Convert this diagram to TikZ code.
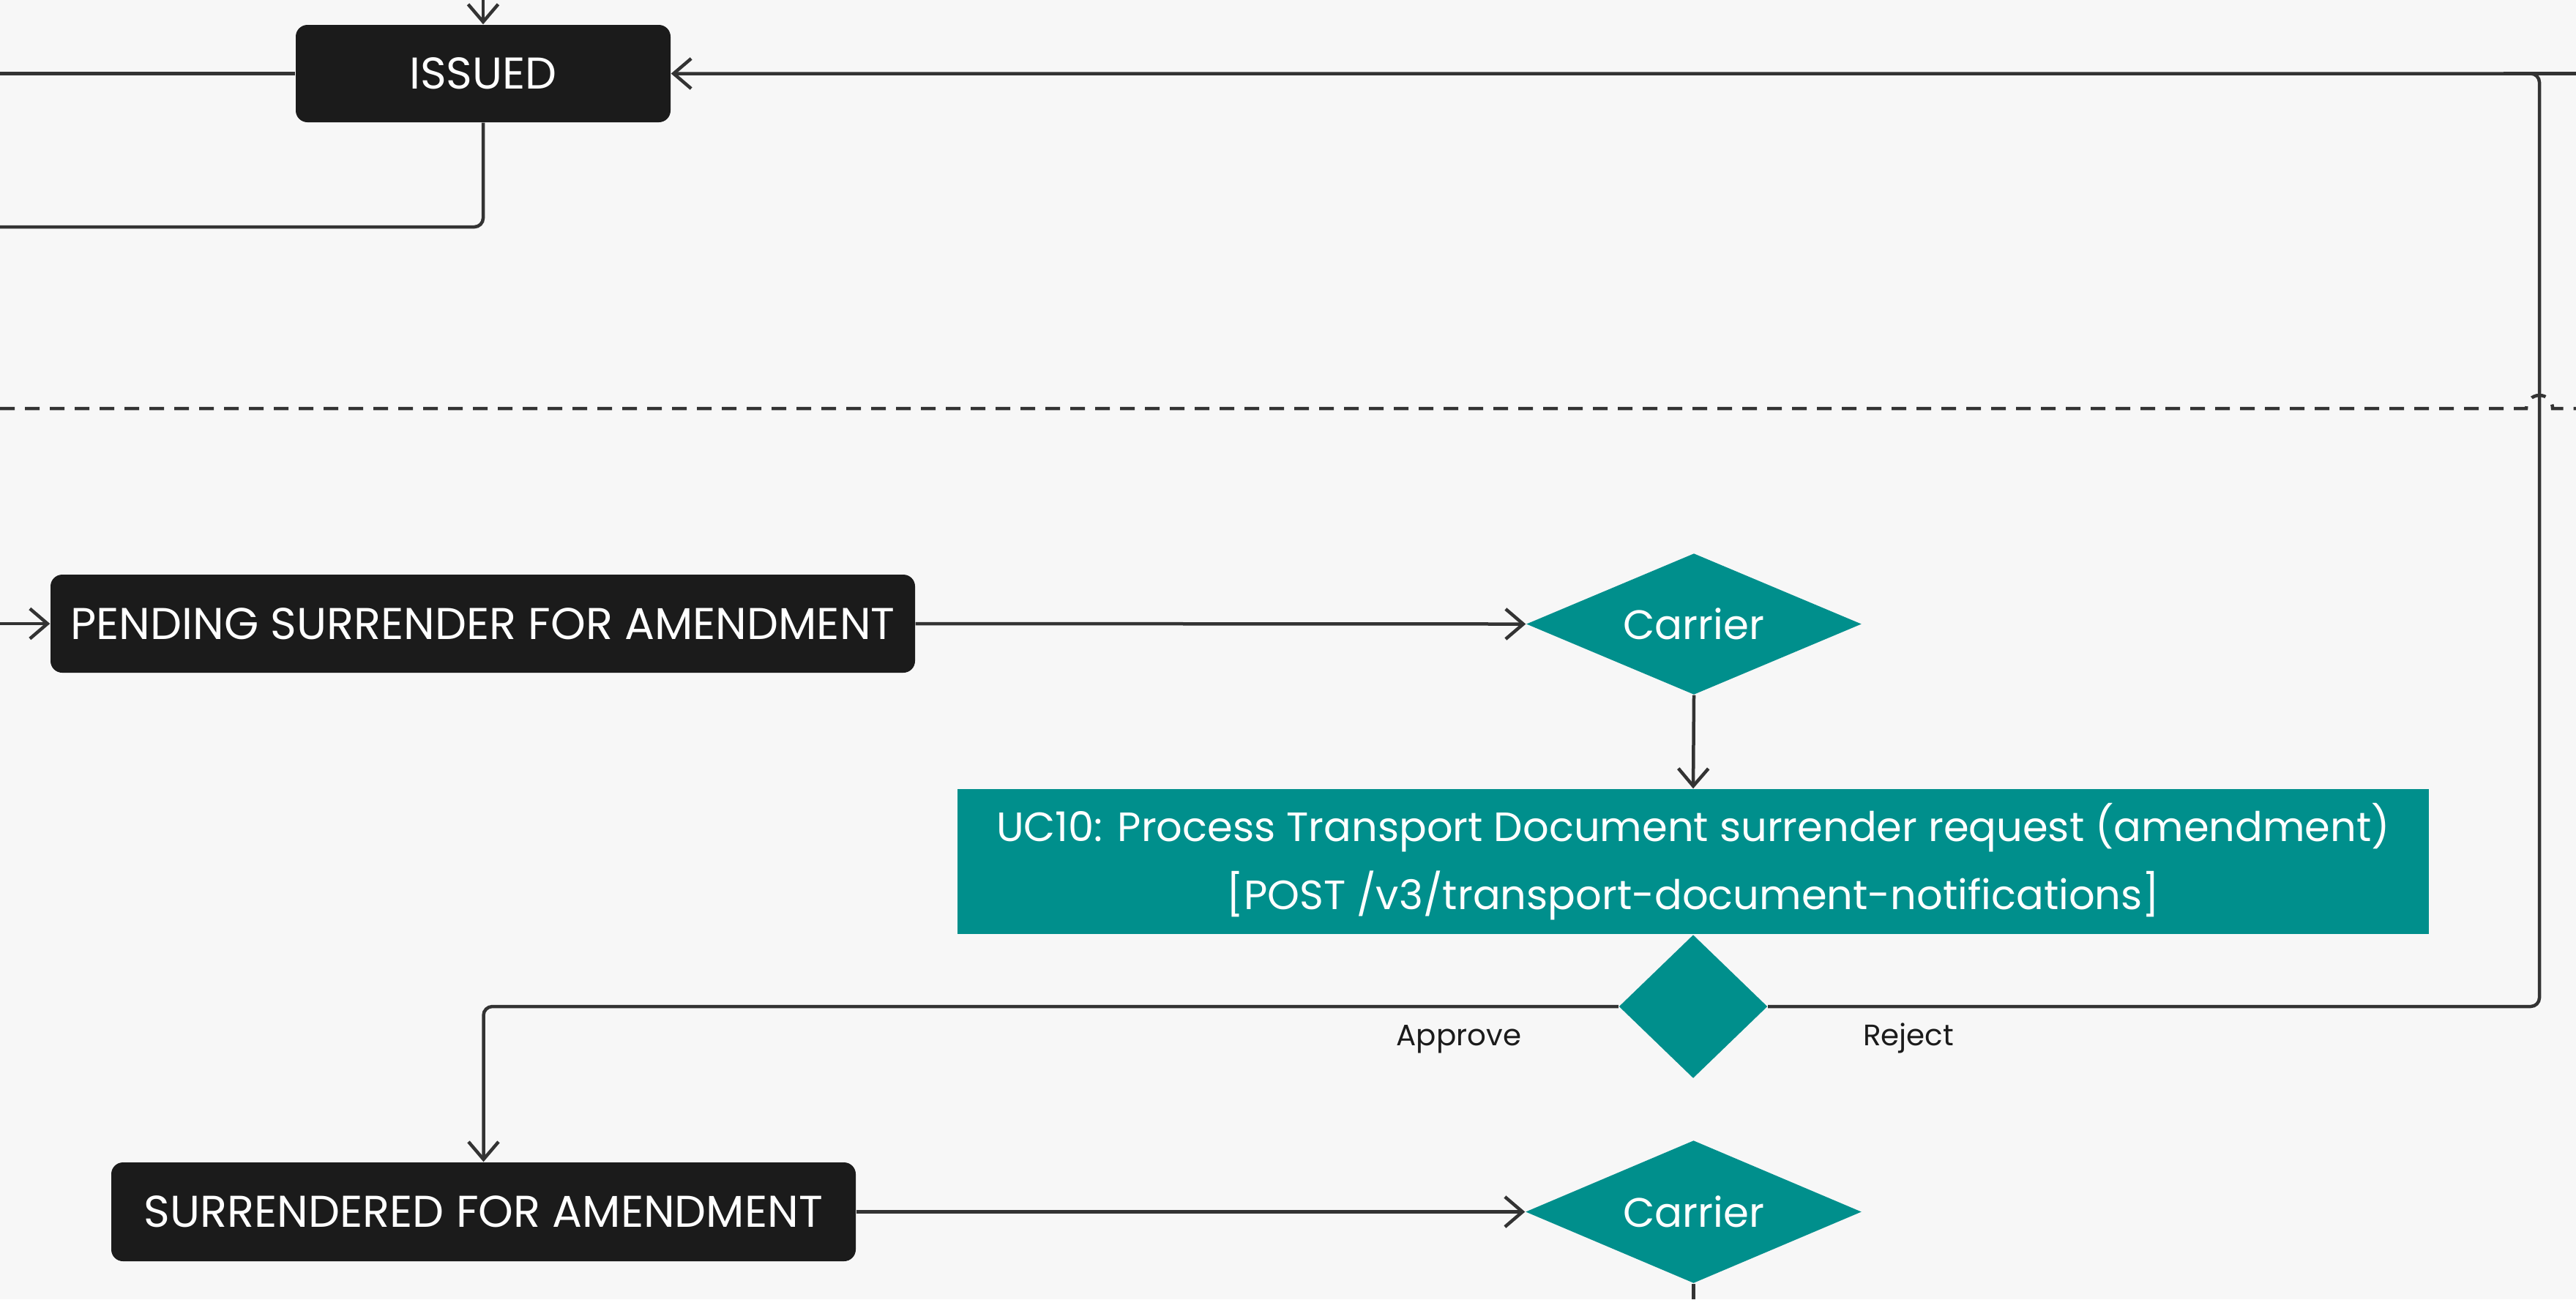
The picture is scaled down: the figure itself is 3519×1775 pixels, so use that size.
\documentclass[tikz,border=0pt]{standalone}
\usepackage{fontspec}
\setmainfont{Poppins}
\usetikzlibrary{arrows.meta,shapes.geometric}
\definecolor{bg}{HTML}{F7F7F7}
\definecolor{ink}{HTML}{1B1B1B}
\definecolor{tealx}{HTML}{008F8C}
\definecolor{wire}{HTML}{333333}
\begin{document}
\begin{tikzpicture}[x=0.1mm,y=-0.1mm,
 state/.style={fill=ink, rounded corners=1.6mm, text=white, font=\fontsize{17.3}{20}\selectfont, inner sep=0pt},
 proc/.style={fill=tealx, text=white, font=\fontsize{15.9}{26.5}\selectfont, align=center, inner sep=0pt, minimum width=201mm, minimum height=19.8mm},
 decision/.style={diamond, fill=tealx, text=white, font=\fontsize{16}{19}\selectfont, inner sep=0pt},
 flow/.style={draw=wire, line width=0.45mm, rounded corners=1.2mm},
 arr/.style={-{Straight Barb[length=2.4mm,width=4.1mm]}},
 lbl/.style={text=ink, font=\fontsize{11.5}{13}\selectfont, anchor=base}]
\useasboundingbox (0,0) rectangle (3519,1775);
\fill[bg] (0,0) rectangle (3519,1775);

% nodes
\node[state, minimum width=51.2mm, minimum height=13.3mm] (issued) at (660,100.5) {ISSUED};
\node[state, minimum width=118.1mm, minimum height=13.4mm] (pending) at (659.5,852) {PENDING SURRENDER FOR AMENDMENT};
\node[state, minimum width=101.7mm, minimum height=13.5mm] (surr) at (660.5,1655.5) {SURRENDERED FOR AMENDMENT};
\node[proc] (uc) at (2313,1177) {UC10: Process Transport Document surrender request (amendment)\\\relax[POST /v3/transport-document-notifications]};
\node[decision, aspect=2.37, minimum width=45.8mm, minimum height=19.3mm] (c1) at (2314,852.5) {Carrier};
\node[decision, minimum width=20.3mm, minimum height=19.6mm] (dec) at (2313,1375) {};
\node[decision, aspect=2.37, minimum width=45.9mm, minimum height=19.5mm] (c2) at (2313.5,1655.5) {Carrier};

\node[lbl] (lapp) at (1993,1428) {Approve};
\node[lbl] (lrej) at (2607,1428) {Reject};

% free ends
\coordinate (topin) at (660,0);
\coordinate (leftA) at (0,100.5);
\coordinate (leftB) at (0,310);
\coordinate (rightE) at (3519,100.5);
\coordinate (rj) at (3469,100.5);
\coordinate (rjm) at (3420,100.5);
\coordinate (pin) at (0,852);
\coordinate (c2out) at (2313.5,1775);

% separator with hop
\draw[wire, line width=0.45mm, dash pattern=on 2mm off 1.4mm] (0,558) -- (3451,558) arc[start angle=180, end angle=0, radius=1.8mm] -- (3519,558);

% connectors
\draw[flow,arr] (topin) -- (issued.north);
\draw[flow] (issued.west) -- (leftA);
\draw[flow] (issued.south) |- (leftB);
\draw[flow] (rightE) -- (rjm);
\draw[flow,arr] (dec.east) -| (rj) -- (issued.east);
\draw[flow,arr] (pin) -- (pending.west);
\draw[flow,arr] (pending.east) -- (c1.west);
\draw[flow,arr] (c1.south) -- (uc.north);
\draw[flow,arr] (dec.west) -| (surr.north);
\draw[flow,arr] (surr.east) -- (c2.west);
\draw[flow] (c2.south) -- (c2out);
\end{tikzpicture}
\end{document}
